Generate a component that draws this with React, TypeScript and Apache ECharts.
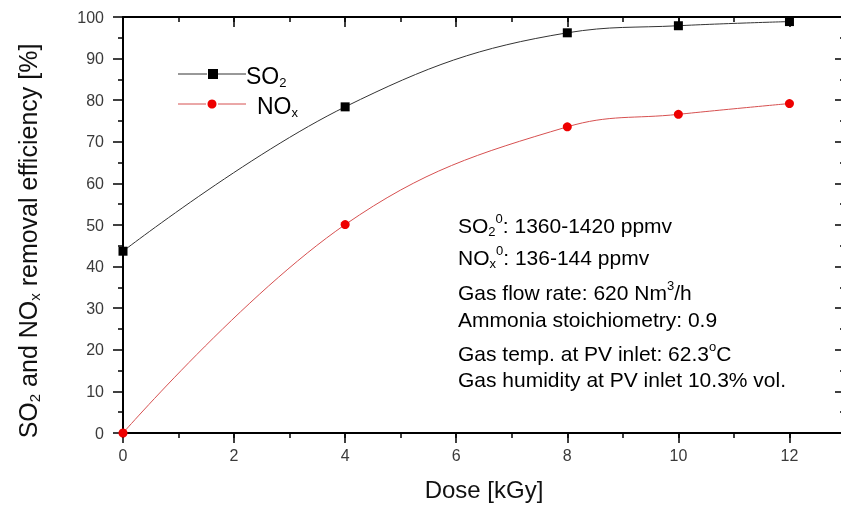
import React, { useEffect, useRef } from 'react';
import * as echarts from 'echarts';

const doses = [0, 4, 8, 10, 12];
const so2Values = [43.7, 78.4, 96.2, 97.9, 98.9];
const noxValues = [0, 50.1, 73.6, 76.6, 79.2];
const xAxisTitle = 'Dose [kGy]';
const yAxisTitle = '{m|SO}{s|2}{m| and NO}{s|x}{m| removal efficiency [%]}';
const legendLabels = ['{m|SO}{s|2}', '{m|NO}{s|x}'];
const annotationLines = [
  '{m|SO}{s|2}{p|0}{m|: 1360-1420 ppmv}',
  '{m|NO}{s|x}{p|0}{m|: 136-144 ppmv}',
  '{m|Gas flow rate: 620 Nm}{p|3}{m|/h}',
  '{m|Ammonia stoichiometry: 0.9}',
  '{m|Gas temp. at PV inlet: 62.3}{p|o}{m|C}',
  '{m|Gas humidity at PV inlet 10.3% vol.}',
];
const annotationY = [225, 257, 292, 319, 353, 379];

const FONT = 'Liberation Sans';

export default function App() {
  const ref = useRef<HTMLDivElement>(null);
  useEffect(() => {
    if (!ref.current) return;
    const chart = echarts.init(ref.current, null, { renderer: 'svg' });
    const axisLine = { show: true, onZero: false, lineStyle: { color: '#000', width: 2 } };
    const tickStyle = { color: '#000', width: 1.5 };
    const xBase = { type: 'value' as const, min: 0, max: 13, splitLine: { show: false } };
    const yBase = { type: 'value' as const, min: 0, max: 100, interval: 10, splitLine: { show: false } };
    const annRich = (size: number) => ({
      m: { fontSize: size, lineHeight: 26, fontFamily: FONT, color: '#111' },
      s: { fontSize: 13, lineHeight: 14, verticalAlign: 'bottom', fontFamily: FONT, color: '#111' },
      p: { fontSize: 13, lineHeight: 9, verticalAlign: 'top', fontFamily: FONT, color: '#111' },
    });

    chart.setOption({
      animation: false,
      grid: { left: 123, top: 17, width: 722, height: 416, containLabel: false, outerBoundsMode: 'none' },
      xAxis: [
        {
          ...xBase, position: 'bottom', interval: 2,
          axisLine, axisTick: { show: true, length: 10, lineStyle: tickStyle },
          axisLabel: { show: true, margin: 14, fontSize: 16, color: '#3a3a3a', fontFamily: FONT, showMaxLabel: false },
          name: xAxisTitle, nameLocation: 'middle', nameGap: 44,
          nameTextStyle: { fontSize: 24, color: '#111', fontFamily: FONT },
        },
        {
          ...xBase, position: 'top', interval: 2,
          axisLine, axisTick: { show: true, inside: true, length: 10, lineStyle: tickStyle },
          axisLabel: { show: false },
        },
        {
          ...xBase, position: 'bottom', interval: 1,
          axisLine: { show: false, onZero: false }, axisTick: { show: true, length: 5, lineStyle: tickStyle },
          axisLabel: { show: false },
        },
        {
          ...xBase, position: 'top', interval: 1,
          axisLine: { show: false, onZero: false }, axisTick: { show: true, inside: true, length: 5, lineStyle: tickStyle },
          axisLabel: { show: false },
        },
      ],
      yAxis: [
        {
          ...yBase, position: 'left',
          axisLine, axisTick: { show: true, length: 10, lineStyle: tickStyle },
          minorTick: { show: true, splitNumber: 2, length: 5, lineStyle: tickStyle },
          axisLabel: { show: true, margin: 19, fontSize: 16, color: '#3a3a3a', fontFamily: FONT },
          name: yAxisTitle, nameLocation: 'middle', nameRotate: 90, nameGap: 81,
          nameTextStyle: {
            padding: [0, 32, 0, 0],
            rich: {
              m: { fontSize: 25, lineHeight: 28, fontFamily: FONT, color: '#111' },
              s: { fontSize: 15, lineHeight: 15, verticalAlign: 'bottom', fontFamily: FONT, color: '#111' },
            },
          },
        },
        {
          ...yBase, position: 'right',
          axisLine, axisTick: { show: true, inside: true, length: 10, lineStyle: tickStyle },
          minorTick: { show: true, splitNumber: 2, length: 5, lineStyle: tickStyle },
          axisLabel: { show: false },
        },
      ],
      series: [
        {
          name: 'SO2', type: 'line', xAxisIndex: 0, yAxisIndex: 0, clip: false,
          data: doses.map((d, i) => [d, so2Values[i]]),
          smooth: 0.4, symbol: 'rect', symbolSize: 9, showAllSymbol: true,
          lineStyle: { color: '#333', width: 1 },
          itemStyle: { color: '#000' },
        },
        {
          name: 'NOx', type: 'line', xAxisIndex: 0, yAxisIndex: 0, clip: false,
          data: doses.map((d, i) => [d, noxValues[i]]),
          smooth: 0.4, symbol: 'circle', symbolSize: 9, showAllSymbol: true,
          lineStyle: { color: '#d65050', width: 1 },
          itemStyle: { color: '#ee0000' },
        },
      ],
      graphic: [
        { type: 'line', shape: { x1: 178, y1: 74, x2: 207, y2: 74 }, style: { stroke: '#333', lineWidth: 1 } },
        { type: 'rect', shape: { x: 208, y: 69, width: 10, height: 10 }, style: { fill: '#000' } },
        { type: 'line', shape: { x1: 218, y1: 74, x2: 246, y2: 74 }, style: { stroke: '#333', lineWidth: 1 } },
        { type: 'text', x: 246, y: 76, style: { text: legendLabels[0], rich: annRich(23), verticalAlign: 'middle', align: 'left' } },
        { type: 'line', shape: { x1: 178, y1: 104, x2: 206, y2: 104 }, style: { stroke: '#d65050', lineWidth: 1 } },
        { type: 'circle', shape: { cx: 212, cy: 104, r: 4.5 }, style: { fill: '#ee0000' } },
        { type: 'line', shape: { x1: 218, y1: 104, x2: 246, y2: 104 }, style: { stroke: '#d65050', lineWidth: 1 } },
        { type: 'text', x: 257, y: 106, style: { text: legendLabels[1], rich: annRich(23), verticalAlign: 'middle', align: 'left' } },
        ...annotationLines.map((t, i) => ({
          type: 'text', x: 458, y: annotationY[i],
          style: { text: t, rich: annRich(21), verticalAlign: 'middle', align: 'left' },
        })),
      ],
    });
    return () => chart.dispose();
  }, []);
  return <div ref={ref} style={{ position: 'fixed', left: 0, top: 0, width: 841, height: 506 }} />;
}
